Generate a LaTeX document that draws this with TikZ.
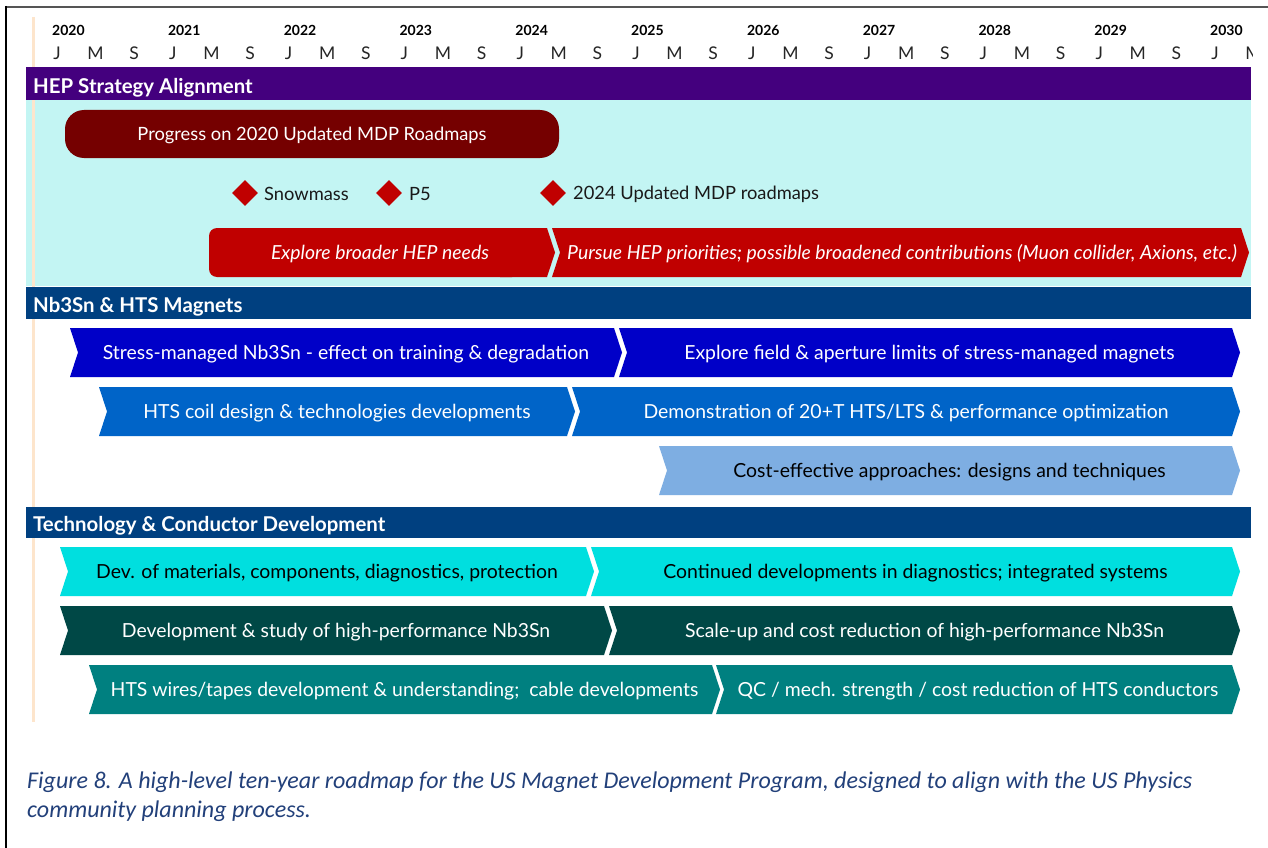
\documentclass[tikz,border=0pt]{standalone}
\usepackage{fontspec}
\setmainfont{Lato}
\newfontfamily\capfont{Carlito}
\usetikzlibrary{shapes.geometric}
\definecolor{hepPurple}{HTML}{44007E}
\definecolor{hepCyan}{HTML}{C3F5F3}
\definecolor{hdrBlue}{HTML}{004080}
\definecolor{progRed}{HTML}{750000}
\definecolor{hepRed}{HTML}{C00000}
\definecolor{nbA}{HTML}{0000C8}
\definecolor{nbB}{HTML}{0064C8}
\definecolor{nbC}{HTML}{7EAEE2}
\definecolor{tcA}{HTML}{00DFDF}
\definecolor{tcB}{HTML}{004846}
\definecolor{tcC}{HTML}{008080}
\definecolor{peach}{HTML}{FDE5CC}
\definecolor{capBlue}{HTML}{22407A}
\definecolor{frameGray}{HTML}{555555}
\newcommand\chev[7]{%
  \fill[#5] ({#2},{#4}) -- ({#3-8},{#4}) -- ({#3},{#4+24.5}) -- ({#3-8},{#4+49}) -- ({#2},{#4+49}) -- ({#2+8},{#4+24.5}) -- cycle;
  \node[boxtxt, text=#6] (#1) at ({(#2+#3)/2},{#4+31}) {#7};
}
\begin{document}
\begin{tikzpicture}[x=1pt,y=-1pt,
  yearlbl/.style={font=\fontsize{14}{14}\selectfont\bfseries, anchor=base west, inner sep=0},
  monlbl/.style={font=\fontsize{17.5}{18}\selectfont, text=black!85, anchor=base, inner sep=0},
  hdr/.style={font=\fontsize{20.4}{22}\selectfont\bfseries, text=white, anchor=base west, inner sep=0},
  boxtxt/.style={font=\fontsize{19.4}{21}\selectfont, anchor=base, inner sep=0},
  itxt/.style={font=\fontsize{19.4}{21}\selectfont\itshape, anchor=base, inner sep=0, text=white},
  mile/.style={diamond, fill=hepRed, minimum width=26, minimum height=26, inner sep=0},
  milelbl/.style={font=\fontsize{18.3}{20}\selectfont, anchor=west, inner sep=0, text=black!90},
  captxt/.style={font=\capfont\fontsize{24}{30}\selectfont\itshape, text=capBlue, anchor=base west, inner sep=0},
  ]
\useasboundingbox (0,0) rectangle (1268,848);
\fill[white] (0,0) rectangle (1268,848);
% page frame
\draw[frameGray, line width=2] (6,7) -- (1268,7);
\draw[black, line width=1.3] (6,6) -- (6,848);
% timeline
\begin{scope}
\clip (0,0) rectangle (1252,848);
\foreach \k in {0,...,10} {
  \pgfmathsetmacro\jx{57+115.8*\k}
  \pgfmathtruncatemacro\yr{2020+\k}
  \node[yearlbl] (y\k) at ({\jx-5},36) {\yr};
  \node[monlbl] (mj\k) at (\jx,60) {J};
  \node[monlbl] (mm\k) at ({\jx+38.6},60) {M};
  \ifnum\k<10 \node[monlbl] (ms\k) at ({\jx+77.2},60) {S};\fi
}
\end{scope}
% HEP section
\fill[hepCyan] (26,100) rectangle (1251,286);
\draw[peach, line width=3] (33,17) -- (33,722);
\fill[hepPurple] (26,67) rectangle (1251,100);
\node[hdr] (hhep) at (33,94) {HEP Strategy Alignment};
\fill[progRed, rounded corners=19] (65,110) rectangle (559,158);
\node[boxtxt, font=\fontsize{18.3}{20}\selectfont, text=white] (prog) at (312,140) {Progress on 2020 Updated MDP Roadmaps};
\node[mile] (d1) at (245,193) {};
\node[milelbl] (snow) at (264,194) {Snowmass};
\node[mile] (d2) at (389,193) {};
\node[milelbl] (p5) at (409,194) {P5};
\node[mile] (d3) at (553,193) {};
\node[milelbl] (upd) at (573,194) {2024 Updated MDP roadmaps};
% Explore broader (rounded left, pointed right)
\fill[hepRed, rounded corners=8] (209,228) rectangle (520,277);
\fill[hepRed] (500,228) -- (547,228) -- (555,252.5) -- (547,277) -- (500,277) -- cycle;
\node[itxt] (expl) at (380,259) {Explore broader HEP needs};
\fill[hepRed] (552,228) -- (1241,228) -- (1249,252.5) -- (1241,277) -- (552,277) -- (560,252.5) -- cycle;
\node[itxt] (purs) at (902,259) {Pursue HEP priorities; possible broadened contributions (Muon collider, Axions, etc.)};
% Nb3Sn & HTS
\fill[hdrBlue] (26,287) rectangle (1251,319);
\node[hdr] (hnb) at (33,312) {Nb3Sn \& HTS Magnets};
\chev{nb1}{70}{622}{328}{nbA}{white}{Stress-managed Nb3Sn - effect on training \& degradation}
\chev{nb2}{619}{1240}{328}{nbA}{white}{Explore field \& aperture limits of stress-managed magnets}
\chev{nb3}{99}{575}{387}{nbB}{white}{HTS coil design \& technologies developments}
\chev{nb4}{572}{1240}{387}{nbB}{white}{Demonstration of 20+T HTS/LTS \& performance optimization}
\chev{nb5}{659}{1240}{446}{nbC}{black}{Cost-effective approaches: designs and techniques}
% Technology & Conductor
\fill[hdrBlue] (26,507) rectangle (1251,538);
\node[hdr] (htc) at (33,531) {Technology \& Conductor Development};
\chev{tc1}{60}{594}{547}{tcA}{black}{Dev. of materials, components, diagnostics, protection}
\chev{tc2}{591}{1240}{547}{tcA}{black}{Continued developments in diagnostics; integrated systems}
\chev{tc3}{60}{612}{606}{tcB}{white}{Development \& study of high-performance Nb3Sn}
\chev{tc4}{609}{1240}{606}{tcB}{white}{Scale-up and cost reduction of high-performance Nb3Sn}
\chev{tc5}{89}{720}{665}{tcC}{white}{HTS wires/tapes development \& understanding;\ \ cable developments}
\chev{tc6}{716}{1240}{665}{tcC}{white}{QC / mech. strength / cost reduction of HTS conductors}
% caption
\node[captxt] (cap1) at (27,788) {Figure 8. A high-level ten-year roadmap for the US Magnet Development Program, designed to align with the US Physics};
\node[captxt] (cap2) at (27,817) {community planning process.};
\end{tikzpicture}
\end{document}
